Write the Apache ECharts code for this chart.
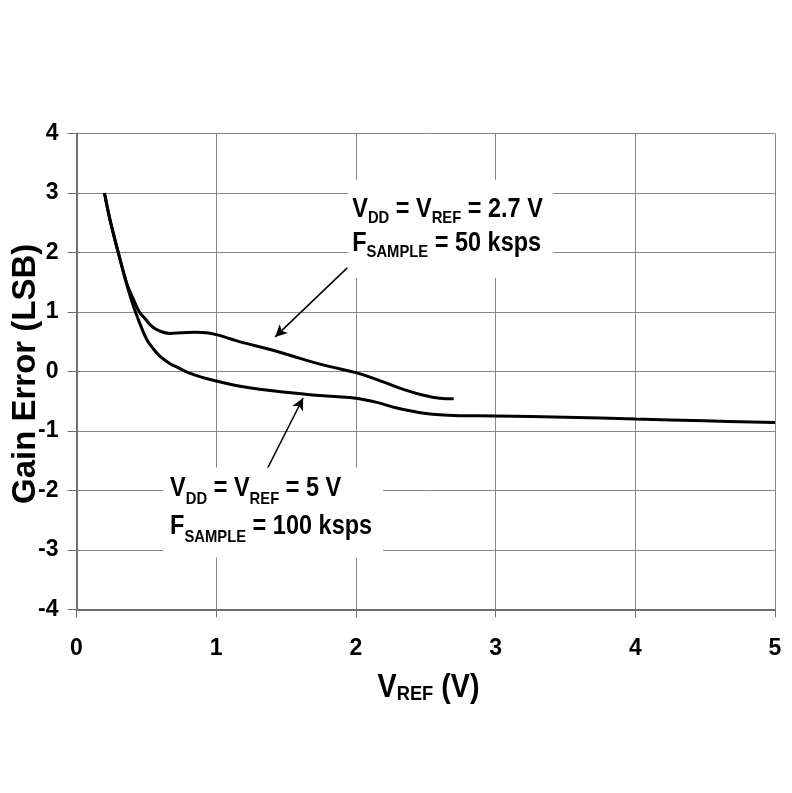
<!DOCTYPE html>
<html>
<head>
<meta charset="utf-8">
<script src="https://cdn.jsdelivr.net/npm/echarts@6/dist/echarts.min.js"></script>
<style>
html,body{margin:0;padding:0;background:#fff;}
#chart{width:792px;height:793px;}
</style>
</head>
<body>
<div id="chart"></div>
<script>
// ---- data ----
var xTicks = [0, 1, 2, 3, 4, 5];
var yTicks = [-4, -3, -2, -1, 0, 1, 2, 3, 4];

// VDD = VREF = 2.7 V, FSAMPLE = 50 ksps
var vref27 = [0.20, 0.24, 0.30, 0.36, 0.41, 0.45, 0.49, 0.53, 0.57, 0.62, 0.67, 0.75, 0.85, 0.93, 1.00, 1.10, 1.20, 1.40, 1.60, 1.80, 2.00, 2.20, 2.35, 2.50, 2.60, 2.70];
var gain27 = [3.00, 2.55, 1.99, 1.48, 1.20, 1.00, 0.89, 0.78, 0.71, 0.66, 0.64, 0.65, 0.66, 0.65, 0.62, 0.55, 0.48, 0.36, 0.22, 0.09, -0.02, -0.18, -0.31, -0.41, -0.45, -0.46];

// VDD = VREF = 5 V, FSAMPLE = 100 ksps
var vref5 = [0.20, 0.24, 0.30, 0.36, 0.40, 0.43, 0.50, 0.55, 0.60, 0.67, 0.73, 0.80, 0.90, 1.00, 1.15, 1.31, 1.50, 1.67, 1.85, 2.00, 2.15, 2.30, 2.45, 2.55, 2.70, 3.00, 3.50, 4.00, 4.50, 5.00];
var gain5 = [3.00, 2.55, 1.99, 1.46, 1.15, 0.95, 0.55, 0.38, 0.25, 0.13, 0.06, -0.02, -0.10, -0.16, -0.24, -0.30, -0.35, -0.39, -0.42, -0.45, -0.52, -0.62, -0.69, -0.72, -0.74, -0.75, -0.77, -0.80, -0.83, -0.86];

// annotation anchors (data units): box top-left, arrow tail, arrow head
var noteTopBox = [1.945, 3.224];
var noteTopArrow = [[1.938, 1.742], [1.422, 0.581]];
var noteBottomBox = [0.62, -1.617];
var noteBottomArrow = [[1.35, -1.71], [1.622, -0.446]];
var xTitleAnchor = [2.52, -5.32];
var yTitleAnchor = [-0.36, -0.04];

function pairs(xs, ys) { return xs.map(function (x, i) { return [x, ys[i]]; }); }

var FONT = '"Liberation Sans", Arial, sans-serif';
var SQUEEZE = 0.87;

var chart = echarts.init(document.getElementById('chart'), null, { renderer: 'canvas' });

var gridColor = '#858585';
var axisColor = '#6e6e6e';

chart.setOption({
  animation: false,
  backgroundColor: '#fff',
  grid: { left: 76.5, right: 17, top: 133.6, bottom: 183.7, containLabel: false, outerBoundsMode: 'none' },
  xAxis: {
    type: 'value', min: xTicks[0], max: xTicks[xTicks.length - 1], interval: 1,
    axisLine: { show: true, onZero: false, lineStyle: { color: axisColor, width: 2 } },
    axisTick: { show: true, inside: false, length: 8, lineStyle: { color: axisColor, width: 1 } },
    splitLine: { show: true, lineStyle: { color: gridColor, width: 1 } },
    axisLabel: { margin: 28, color: '#000', fontFamily: FONT, fontWeight: 'bold', fontSize: 23 }
  },
  yAxis: {
    type: 'value', min: yTicks[0], max: yTicks[yTicks.length - 1], interval: 1,
    axisLine: { show: true, onZero: false, lineStyle: { color: axisColor, width: 2 } },
    axisTick: { show: true, inside: false, length: 9, lineStyle: { color: axisColor, width: 1 } },
    splitLine: { show: true, lineStyle: { color: gridColor, width: 1 } },
    axisLabel: { margin: 18, color: '#000', fontFamily: FONT, fontWeight: 'bold', fontSize: 23 }
  },
  series: [
    {
      name: '2.7 V', type: 'line', data: pairs(vref27, gain27), smooth: 0.4,
      showSymbol: false, symbol: 'none', lineStyle: { color: '#000', width: 3 }, z: 3,
      markLine: {
        silent: true, symbol: ['none', 'arrow'], symbolSize: [9, 12], label: { show: false },
        lineStyle: { color: '#000', width: 1.5, type: 'solid' },
        data: [[{ coord: noteTopArrow[0] }, { coord: noteTopArrow[1] }]]
      }
    },
    {
      name: '5 V', type: 'line', data: pairs(vref5, gain5), smooth: 0.4,
      showSymbol: false, symbol: 'none', lineStyle: { color: '#000', width: 3 }, z: 3,
      markLine: {
        silent: true, symbol: ['none', 'arrow'], symbolSize: [9, 12], label: { show: false },
        lineStyle: { color: '#000', width: 1.5, type: 'solid' },
        data: [[{ coord: noteBottomArrow[0] }, { coord: noteBottomArrow[1] }]]
      }
    }
  ]
});

function noteRich(lh) {
  return {
    a: { fontFamily: FONT, fontWeight: 'bold', fontSize: 27, fill: '#000', lineHeight: lh },
    s: { fontFamily: FONT, fontWeight: 'bold', fontSize: 17, fill: '#000', lineHeight: 16, verticalAlign: 'bottom' }
  };
}
function pad(arr) { return [arr[0], arr[1] / SQUEEZE, arr[2], arr[3] / SQUEEZE]; }

var pTop = chart.convertToPixel({ gridIndex: 0 }, noteTopBox);
var pBot = chart.convertToPixel({ gridIndex: 0 }, noteBottomBox);
var pTitle = chart.convertToPixel({ gridIndex: 0 }, xTitleAnchor);
var pYTitle = chart.convertToPixel({ gridIndex: 0 }, yTitleAnchor);

chart.setOption({
  graphic: [
    {
      type: 'text', x: pTop[0], y: pTop[1], z: 10, scaleX: SQUEEZE,
      style: {
        text: '{a|V}{s|DD}{a| = V}{s|REF}{a| = 2.7 V}\n{a|F}{s|SAMPLE}{a| = 50 ksps}',
        rich: noteRich(34),
        backgroundColor: '#fff', padding: pad([13, 10, 17, 4]),
        align: 'left', verticalAlign: 'top'
      }
    },
    {
      type: 'text', x: pBot[0], y: pBot[1], z: 10, scaleX: SQUEEZE,
      style: {
        text: '{a|V}{s|DD}{a| = V}{s|REF}{a| = 5 V}\n{a|F}{s|SAMPLE}{a| = 100 ksps}',
        rich: noteRich(38),
        backgroundColor: '#fff', padding: pad([2, 11, 12, 7]),
        align: 'left', verticalAlign: 'top'
      }
    },
    {
      type: 'text', x: pTitle[0], y: pTitle[1], z: 10, scaleX: SQUEEZE,
      style: {
        text: '{a|V}{s|REF}{a| (V)}',
        rich: {
          a: { fontFamily: FONT, fontWeight: 'bold', fontSize: 33, fill: '#000', lineHeight: 34 },
          s: { fontFamily: FONT, fontWeight: 'bold', fontSize: 21, fill: '#000', lineHeight: 20, verticalAlign: 'bottom' }
        },
        align: 'center', verticalAlign: 'middle'
      }
    },
    {
      type: 'text', x: pYTitle[0], y: pYTitle[1], z: 10, rotation: Math.PI / 2,
      style: {
        text: 'Gain Error (LSB)',
        font: 'bold 33px "Liberation Sans", Arial, sans-serif',
        fill: '#000', align: 'center', verticalAlign: 'middle'
      }
    }
  ]
});
</script>
</body>
</html>
